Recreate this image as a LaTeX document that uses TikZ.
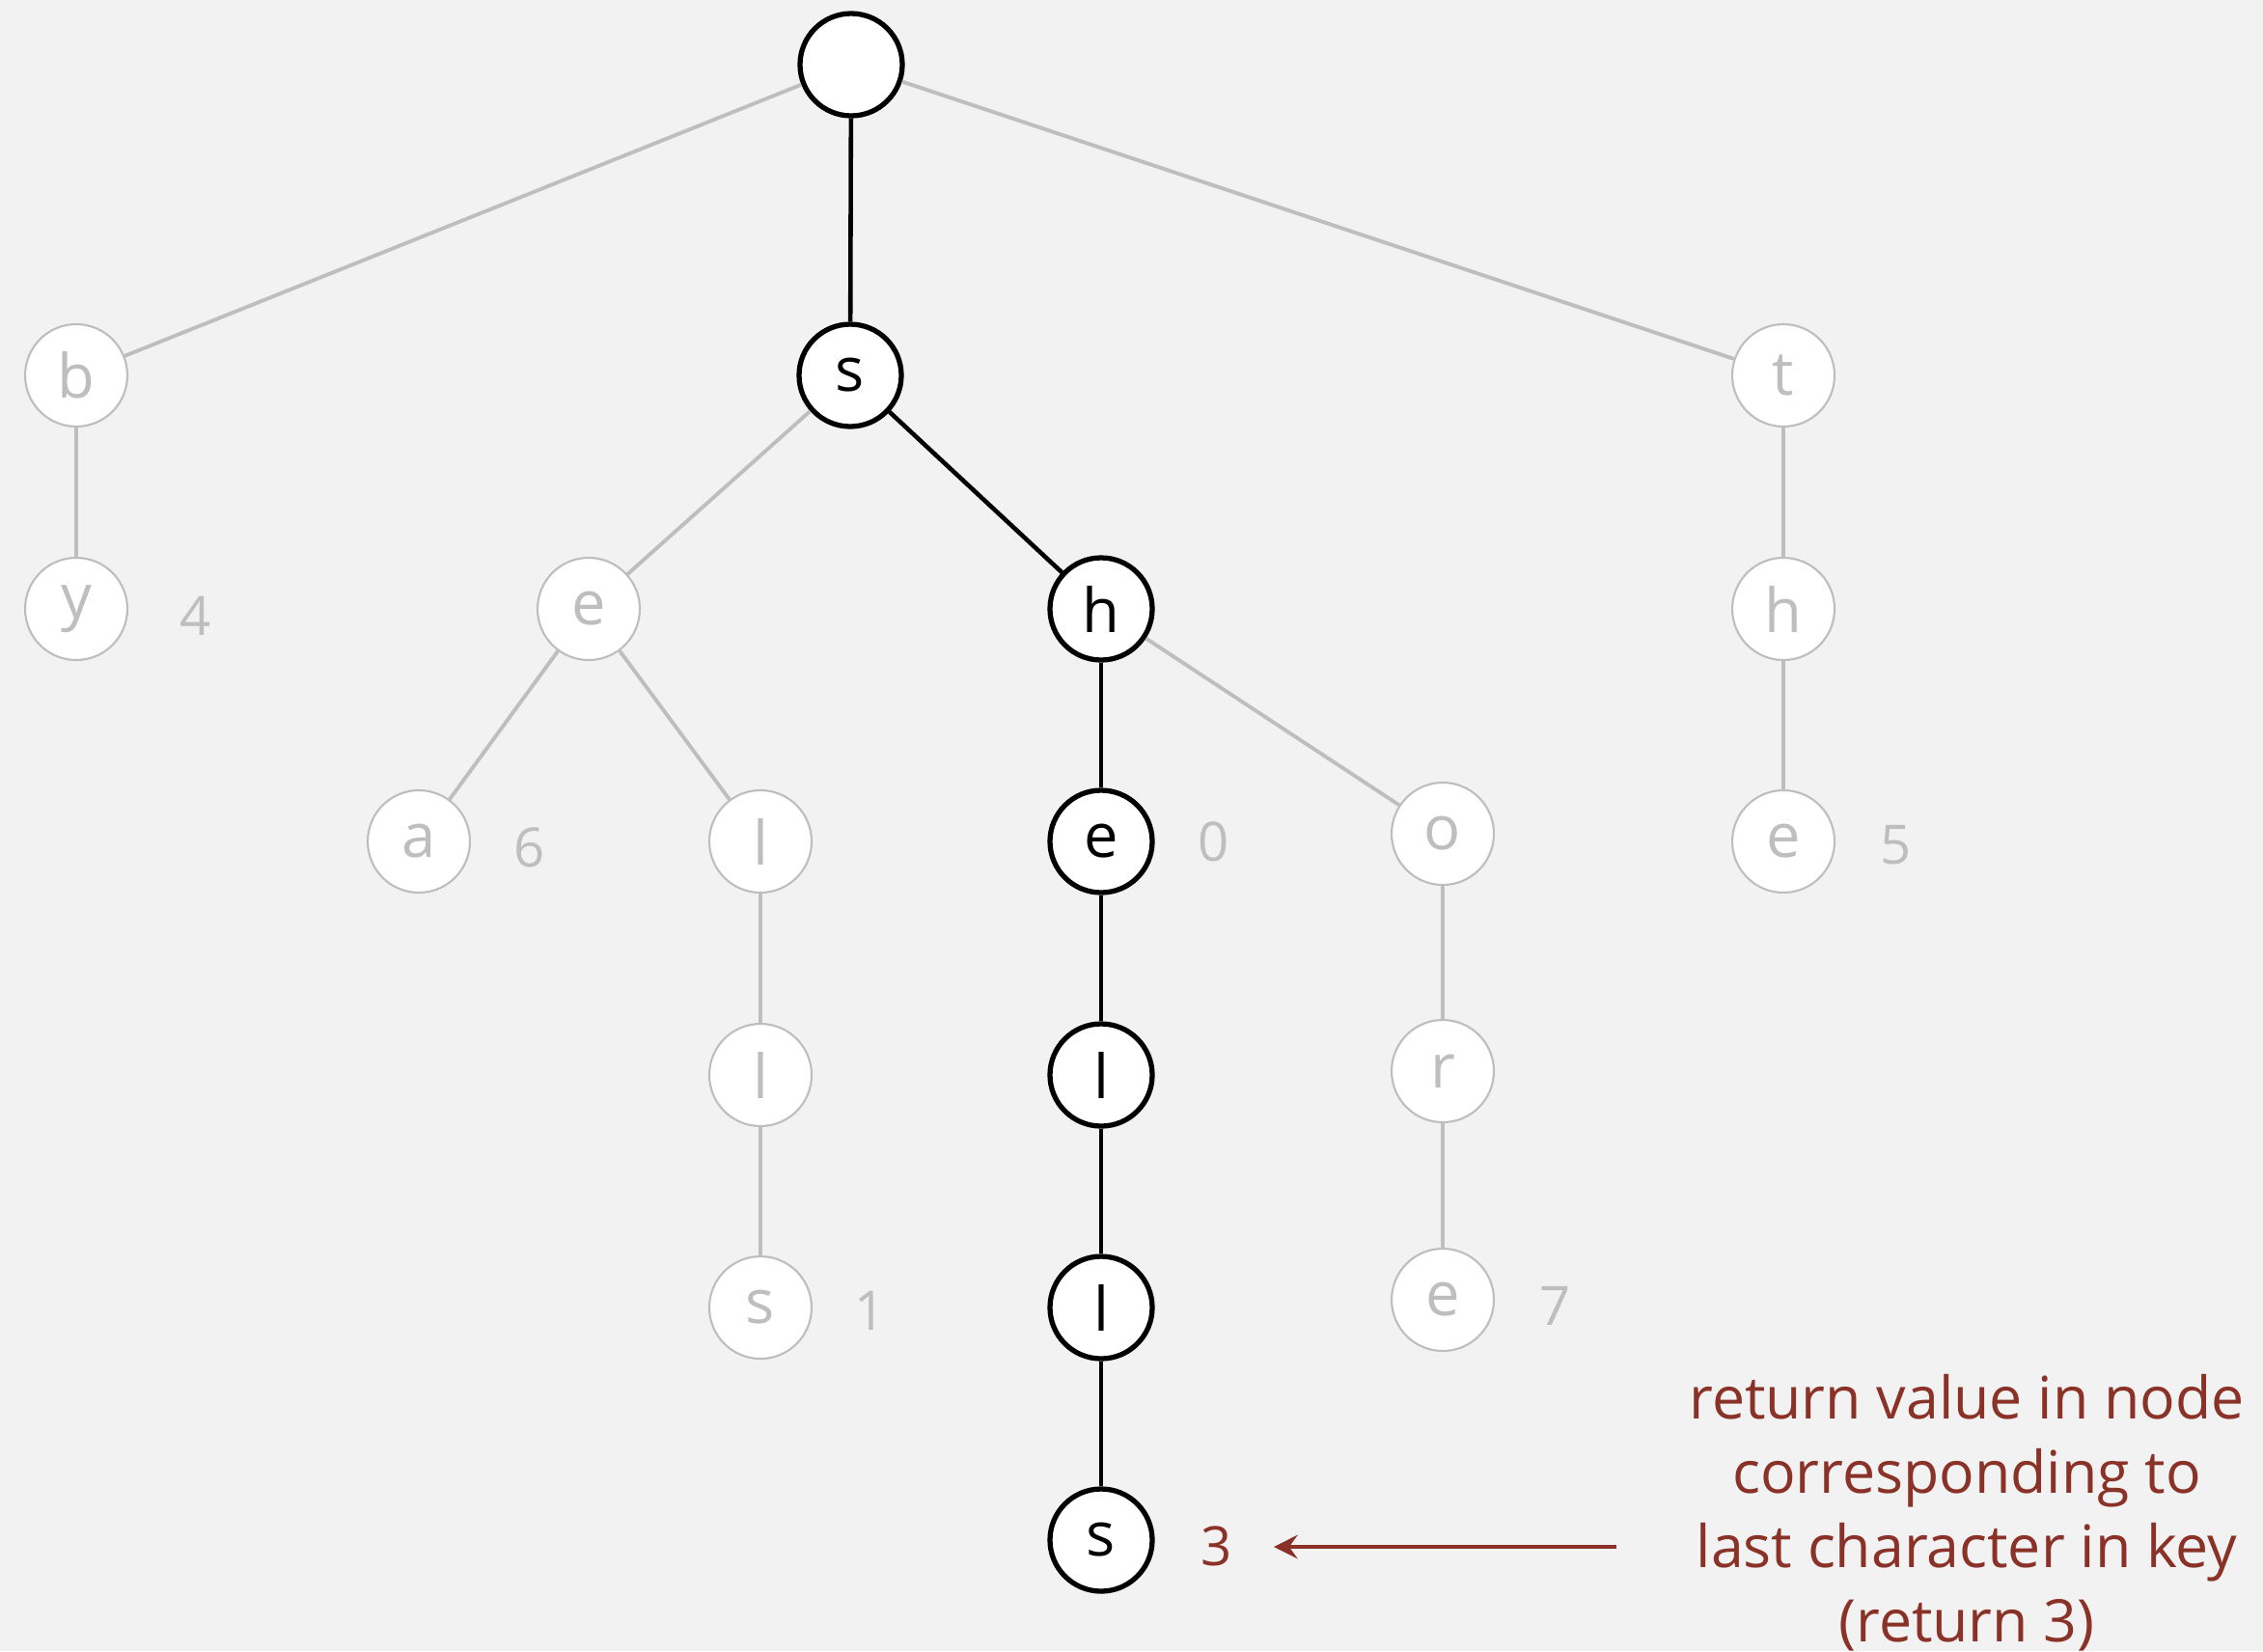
\documentclass[tikz,border=0pt]{standalone}
\usepackage{fontspec}
\setmainfont{Open Sans}
\usetikzlibrary{arrows.meta}
\definecolor{bgcol}{RGB}{242,242,242}
\definecolor{faded}{RGB}{190,190,190}
\definecolor{notered}{RGB}{139,50,40}
\tikzset{
  trie/.style={circle,draw,fill=white,minimum size=1.06cm,inner sep=0pt,font=\fontsize{18}{22}\selectfont},
  on/.style={trie,line width=1.5pt,text=black},
  off/.style={trie,draw=faded,line width=0.6pt,text=faded},
  onedge/.style={line width=1.3pt,black},
  offedge/.style={line width=1.1pt,faded},
  val/.style={font=\fontsize{16}{20}\selectfont,text=faded},
}
\begin{document}
\begin{tikzpicture}
      \fill[bgcol] (0,0) rectangle (23.45,-17.11);
      \useasboundingbox (0,0) rectangle (23.45,-17.11);
      %% Nodes on the search path
      \node[on] (root) at (8.82,-0.67) {};
      \node[on] (s) at (8.81,-3.89) {s};
      \node[on] (sh) at (11.41,-6.31) {h};
      \node[on] (she) at (11.41,-8.72) {e};
      \node[on] (shel) at (11.41,-11.14) {l};
      \node[on] (shell) at (11.41,-13.55) {l};
      \node[on] (shells) at (11.41,-15.96) {s};
      %% Other nodes
      \node[off] (b) at (0.79,-3.89) {b};
      \node[off] (by) at (0.79,-6.31) {y};
      \node[off] (se) at (6.10,-6.31) {e};
      \node[off] (sea) at (4.34,-8.72) {a};
      \node[off] (sel) at (7.88,-8.72) {l};
      \node[off] (sell) at (7.88,-11.14) {l};
      \node[off] (sells) at (7.88,-13.55) {s};
      \node[off] (sho) at (14.95,-8.64) {o};
      \node[off] (shor) at (14.95,-11.10) {r};
      \node[off] (shore) at (14.95,-13.47) {e};
      \node[off] (t) at (18.48,-3.89) {t};
      \node[off] (th) at (18.48,-6.31) {h};
      \node[off] (the) at (18.48,-8.72) {e};
      %% Values
      \node[val] at (2.03,-6.38) {4};
      \node[val] at (5.49,-8.78) {6};
      \node[val] at (12.58,-8.72) {0};
      \node[val] at (19.65,-8.76) {5};
      \node[val] at (9.02,-13.58) {1};
      \node[val] at (16.12,-13.53) {7};
      \node[val,text=notered] (v3) at (12.61,-16.02) {3};
      %% Edges on the search path
      \draw[onedge] (root) -- (s);
      \draw[onedge] (s) -- (sh);
      \draw[onedge] (sh) -- (she);
      \draw[onedge] (she) -- (shel);
      \draw[onedge] (shel) -- (shell);
      \draw[onedge] (shell) -- (shells);
      %% Other edges
      \draw[offedge] (root) -- (b);
      \draw[offedge] (root) -- (t);
      \draw[offedge] (b) -- (by);
      \draw[offedge] (s) -- (se);
      \draw[offedge] (se) -- (sea);
      \draw[offedge] (se) -- (sel);
      \draw[offedge] (sel) -- (sell);
      \draw[offedge] (sell) -- (sells);
      \draw[offedge] (sh) -- (sho);
      \draw[offedge] (sho) -- (shor);
      \draw[offedge] (shor) -- (shore);
      \draw[offedge] (t) -- (th);
      \draw[offedge] (th) -- (the);
      %% Note
      \node[text=notered,align=center,font=\fontsize{17.3}{21.9}\selectfont] (note) at (20.38,-15.68)
        {return value in node\\corresponding to\\last character in key\\(return 3)};
      \coordinate (tail) at (16.75,-16.03);
      \coordinate (tip) at (13.20,-16.03);
      \draw[-{Stealth[length=7pt,width=7pt,inset=2.5pt]},line width=1.2pt,notered] (tail) -- (tip);
    \end{tikzpicture}
\end{document}
